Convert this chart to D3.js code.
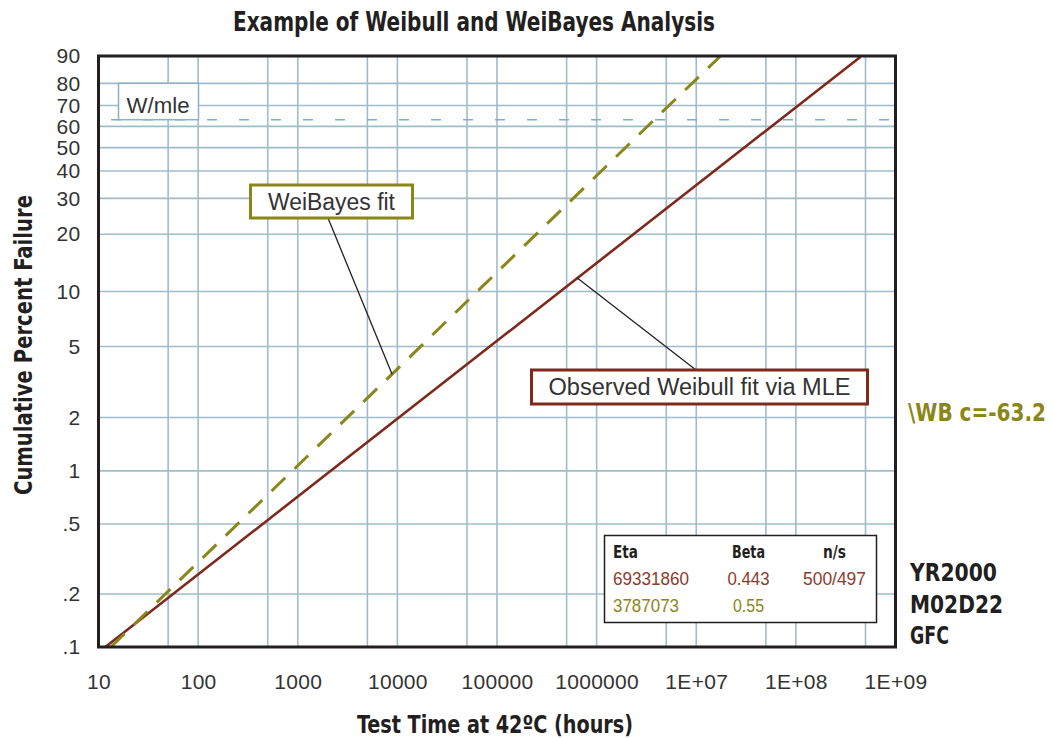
<!DOCTYPE html>
<html>
<head>
<meta charset="utf-8">
<script src="https://cdn.jsdelivr.net/npm/d3@7"></script>
<style>
  body { margin: 0; background: #fff; }
  .cond { font-family: "DejaVu Sans Condensed", "DejaVu Sans", sans-serif; font-weight: bold; fill: #231f20; }
  .lite { font-family: "Liberation Sans", Arial, sans-serif; fill: #333; }
</style>
</head>
<body>
<svg id="chart" width="1054" height="738"></svg>
<script>
// x axis (test time, hours)
var xTicks = [10, 100, 1000, 10000, 100000, 1000000, 1e7, 1e8, 1e9];
var xTickLabels = ["10", "100", "1000", "10000", "100000", "1000000", "1E+07", "1E+08", "1E+09"];
var xGrid = [10, 50, 100, 500, 1000, 5000, 10000, 50000, 100000, 500000, 1e6, 5e6, 1e7, 5e7, 1e8, 5e8, 1e9];

// y axis (cumulative percent failure)
var yTicks = [90, 80, 70, 60, 50, 40, 30, 20, 10, 5, 2, 1, 0.5, 0.2, 0.1];
var yTickLabels = ["90", "80", "70", "60", "50", "40", "30", "20", "10", "5", "2", "1", ".5", ".2", ".1"];

// fitted lines as [hours, percent]
var mleFit = [[11.7, 0.1], [69331860, 63.2], [4.47e8, 89.8]];
var weibayesFit = [[13.3, 0.1], [3787073, 63.2], [1.75e7, 90]];

// table
var tableHead = ["Eta", "Beta", "n/s"];
var mleRow = ["69331860", "0.443", "500/497"];
var weibayesRow = ["3787073", "0.55", ""];

var sideNotes = ["YR2000", "M02D22", "GFC"];

var red = "#7d2a1c", redText = "#8c3b2c", olive = "#8a8619", gridCol = "#9fbccb";

var svg = d3.select("#chart");
var L = 98.5, R = 895.5, T = 56, B = 647;

function fit(sel, w){ return sel.attr("textLength", w).attr("lengthAdjust", "spacingAndGlyphs"); }

// squeeze with a transform so the real box is the narrow one
function squeeze(sel, x0, y0, w){
    var nat = sel.node().getComputedTextLength();
    return sel.attr("transform", "translate(" + x0 + "," + y0 + ") scale(" + (w / nat) + ",1)");
}

// weibull probability transform
function weib(p){ return Math.log(-Math.log(1 - p/100)); }

var x = d3.scaleLog().domain([10, 1e9]).range([L, R]);
var yU = d3.scaleLinear().domain([weib(0.1), weib(90)]).range([B, T]);
function y(p){ return yU(weib(p)); }

// grid
var grid = svg.append("g");
grid.selectAll(".vg").data(xGrid).enter().append("line")
    .attr("x1", d => x(d)).attr("x2", d => x(d))
    .attr("y1", T).attr("y2", B)
    .attr("stroke", gridCol).attr("stroke-width", 1.6);
grid.selectAll(".hg").data(yTicks).enter().append("line")
    .attr("x1", L).attr("x2", R)
    .attr("y1", d => y(d)).attr("y2", d => y(d))
    .attr("stroke", gridCol).attr("stroke-width", 1.6);

// 63.2% characteristic life line
svg.append("line")
    .attr("x1", 111).attr("x2", 893)
    .attr("y1", y(63.2)).attr("y2", y(63.2))
    .attr("stroke", "#86abc0").attr("stroke-width", 1.6)
    .attr("stroke-dasharray", "10,22");

// W/mle box
svg.append("rect").attr("x", 118.5).attr("y", y(80)).attr("width", 80).attr("height", y(63.2) - y(80))
    .attr("fill", "#fff").attr("stroke", "#8fb0c2").attr("stroke-width", 1.5);
fit(svg.append("text").attr("class", "lite").attr("x", 126.5).attr("y", 113)
    .style("font-size", "22px").text("W/mle"), 63);

// fitted lines
var line = d3.line().x(d => x(d[0])).y(d => y(d[1]));
svg.append("path").datum(mleFit).attr("d", line)
    .attr("fill", "none").attr("stroke", red).attr("stroke-width", 2.6);
svg.append("path").datum(weibayesFit).attr("d", line)
    .attr("fill", "none").attr("stroke", olive).attr("stroke-width", 3)
    .attr("stroke-dasharray", "19,13");

// frame
svg.append("rect").attr("x", L).attr("y", T).attr("width", R - L).attr("height", B - T)
    .attr("fill", "none").attr("stroke", "#231f20").attr("stroke-width", 3);

// axes
var xAxis = svg.append("g").attr("transform", "translate(0," + B + ")")
    .call(d3.axisBottom(x).tickValues(xTicks).tickSize(0).tickPadding(27)
        .tickFormat((d, i) => xTickLabels[i]));
var yAxis = svg.append("g").attr("transform", "translate(" + L + ",0)")
    .call(d3.axisLeft(yU).tickValues(yTicks.map(weib)).tickSize(0).tickPadding(18)
        .tickFormat((d, i) => yTickLabels[i]));
[xAxis, yAxis].forEach(function(a){
    a.select(".domain").remove();
    a.selectAll("text").attr("class", "lite").attr("fill", "#333")
        .style("font-size", "21px").style("letter-spacing", "0.3px")
        .style("font-family", '"Liberation Sans", Arial, sans-serif');
});

// callouts
function callout(bx, by, bw, bh, col, label, tw, fromX, anchor){
    svg.append("line")
        .attr("x1", fromX).attr("y1", anchor[1] < 10 ? by + bh : by)
        .attr("x2", x(anchor[0])).attr("y2", y(anchor[1]))
        .attr("stroke", "#231f20").attr("stroke-width", 1.3);
    svg.append("rect").attr("x", bx).attr("y", by).attr("width", bw).attr("height", bh)
        .attr("fill", "#fff").attr("stroke", col).attr("stroke-width", 3);
    fit(svg.append("text").attr("class", "lite").attr("x", bx + bw/2).attr("y", by + bh/2 + 8)
        .attr("text-anchor", "middle").style("font-size", "23px").text(label), tw);
}
callout(250.5, 185, 162, 33, olive, "WeiBayes fit", 127, 328, [8850, 3.5]);
callout(531.5, 370, 336, 34, red, "Observed Weibull fit via MLE", 302, 696, [6.4e5, 11.8]);

// parameter table
svg.append("rect").attr("x", 604.5).attr("y", 535.5).attr("width", 272).attr("height", 87)
    .attr("fill", "#fff").attr("stroke", "#231f20").attr("stroke-width", 1.5);
var colX = [613, 748.5, 834.5], colAnchor = ["start", "middle", "middle"];
var widths = [[25, 33, 23], [76, 42, 63], [66, 31, 0]];
[[tableHead, 558, "#231f20", true], [mleRow, 585, redText, false], [weibayesRow, 612, olive, false]]
  .forEach(function(r, j){
    r[0].forEach(function(t, i){
        if (!t) return;
        fit(svg.append("text").attr("class", r[3] ? "cond" : "lite")
            .attr("x", colX[i]).attr("y", r[1]).attr("text-anchor", colAnchor[i])
            .style("font-size", "18px")
            .style("fill", r[2]).text(t), widths[j][i]);
    });
  });

// titles
fit(svg.append("text").attr("class", "cond").attr("x", 474).attr("y", 31)
    .attr("text-anchor", "middle").style("font-size", "26px")
    .text("Example of Weibull and WeiBayes Analysis"), 482);
fit(svg.append("text").attr("class", "cond").attr("x", 495).attr("y", 733)
    .attr("text-anchor", "middle").style("font-size", "25px")
    .text("Test Time at 42ºC (hours)"), 276);
fit(svg.append("text").attr("class", "cond")
    .attr("transform", "translate(32,345) rotate(-90)")
    .attr("text-anchor", "middle").style("font-size", "25px")
    .text("Cumulative Percent Failure"), 300);

// side notes
squeeze(svg.append("text").attr("class", "cond")
    .style("font-size", "25px").style("fill", olive).text("\\WB c=-63.2"), 908, 421, 138);
var noteW = [87, 93, 39];
sideNotes.forEach(function(t, i){
    fit(svg.append("text").attr("class", "cond").attr("x", 910).attr("y", 581 + i * 31.5)
        .style("font-size", "25px").text(t), noteW[i]);
});
</script>
</body>
</html>
